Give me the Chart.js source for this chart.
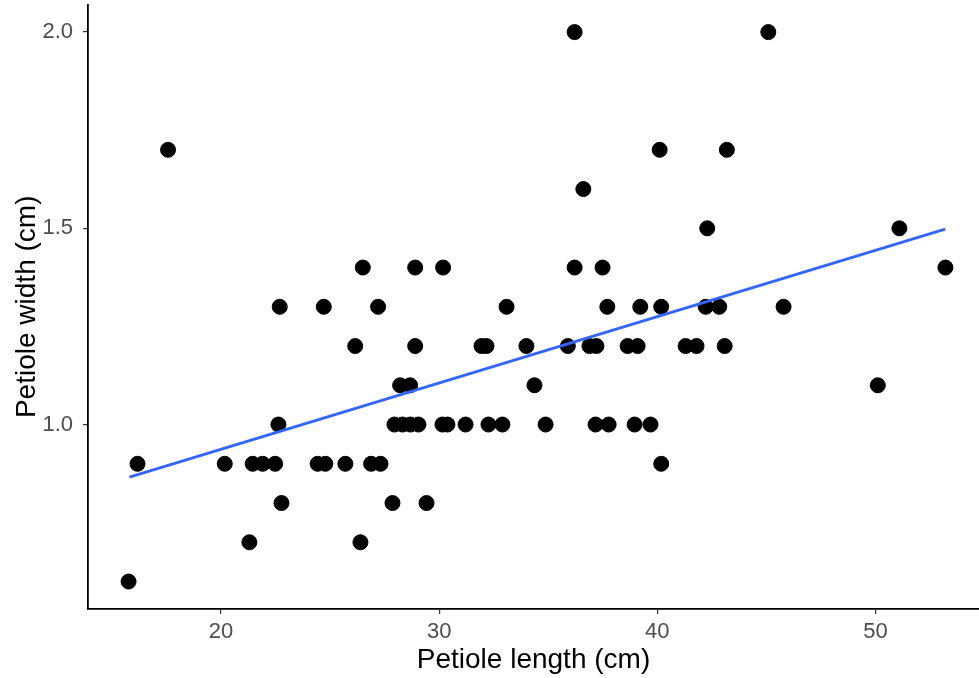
<!DOCTYPE html>
<html>
<head>
<meta charset="utf-8">
<script src="https://cdn.jsdelivr.net/npm/chart.js@4/dist/chart.umd.min.js"></script>
<style>
  body { margin: 0; background: #fff; }
  #wrap { width: 979px; height: 678px; }
</style>
</head>
<body>
<div id="wrap"><canvas id="petioleChart" width="979" height="678"></canvas></div>
<script>
// petiole length (cm) and width (cm)
const petioleLength = [
  15.76,
  21.30, 26.39,
  22.77, 27.86, 29.42,
  16.17, 20.17, 21.45, 21.91, 22.48, 24.43, 24.78, 25.70, 26.88, 27.31, 40.18,
  22.63, 27.95, 28.32, 28.68, 29.05, 30.15, 30.38, 31.21, 32.26, 32.90, 34.88, 37.17, 37.77, 38.96, 39.69,
  28.21, 28.67, 34.37, 50.11,
  26.15, 28.90, 31.94, 32.17, 34.00, 35.90, 36.89, 37.21, 38.64, 39.10, 41.30, 41.80, 43.09,
  22.69, 24.71, 27.20, 33.09, 37.71, 39.22, 40.18, 42.22, 42.84, 45.79,
  26.50, 28.90, 30.18, 36.21, 37.49, 53.21,
  42.29, 51.10,
  36.61,
  17.57, 40.11, 43.19,
  36.21, 45.09
];
const petioleWidth = [
  0.6,
  0.7, 0.7,
  0.8, 0.8, 0.8,
  0.9, 0.9, 0.9, 0.9, 0.9, 0.9, 0.9, 0.9, 0.9, 0.9, 0.9,
  1.0, 1.0, 1.0, 1.0, 1.0, 1.0, 1.0, 1.0, 1.0, 1.0, 1.0, 1.0, 1.0, 1.0, 1.0,
  1.1, 1.1, 1.1, 1.1,
  1.2, 1.2, 1.2, 1.2, 1.2, 1.2, 1.2, 1.2, 1.2, 1.2, 1.2, 1.2, 1.2,
  1.3, 1.3, 1.3, 1.3, 1.3, 1.3, 1.3, 1.3, 1.3, 1.3,
  1.4, 1.4, 1.4, 1.4, 1.4, 1.4,
  1.5, 1.5,
  1.6,
  1.7, 1.7, 1.7,
  2.0, 2.0
];

// end points of the fitted linear trend
const fitX = [15.8, 53.2];
const fitY = [0.866, 1.498];

const xTicks = [20, 30, 40, 50];
const yTicks = [1.0, 1.5, 2.0];

const points = petioleLength.map((v, i) => ({ x: v, y: petioleWidth[i] }));
const fitLine = fitX.map((v, i) => ({ x: v, y: fitY[i] }));

const ctx = document.getElementById('petioleChart').getContext('2d');

const config = {
  type: 'scatter',
  data: {
    datasets: [
      {
        type: 'line',
        label: 'fit',
        data: fitLine,
        borderColor: '#3366FF',
        borderWidth: 3,
        pointRadius: 0,
        fill: false,
        order: 0
      },
      {
        label: 'Petiole',
        data: points,
        backgroundColor: '#000',
        borderColor: '#000',
        pointRadius: 7.5,
        pointHoverRadius: 7.5,
        order: 1
      }
    ]
  },
  options: {
    responsive: false,
    animation: false,
    layout: { autoPadding: false, padding: { top: 4.6, right: 0, left: 0, bottom: 0 } },
    plugins: { legend: { display: false }, tooltip: { enabled: false } },
    scales: {
      x: {
        type: 'linear',
        min: 13.9,
        max: 54.75,
        afterBuildTicks: s => { s.ticks = xTicks.map(v => ({ value: v })); },
        afterFit: s => { s.height = 69; s.paddingLeft = 0; s.paddingRight = 0; },
        grid: { drawOnChartArea: false, drawTicks: true, tickLength: 5, color: '#333', lineWidth: 1.2 },
        border: { color: '#000', width: 1.8 },
        ticks: { color: '#4d4d4d', font: { family: 'Liberation Sans', size: 22 }, padding: 5, maxRotation: 0 },
        title: { display: true, text: 'Petiole length (cm)', color: '#000', font: { family: 'Liberation Sans', size: 28 }, padding: { top: 0, bottom: 1 } }
      },
      y: {
        type: 'linear',
        min: 0.53,
        max: 2.07,
        afterBuildTicks: s => { s.ticks = yTicks.map(v => ({ value: v })); },
        afterFit: s => { s.width = 88; s.paddingTop = 0; s.paddingBottom = 0; },
        grid: { drawOnChartArea: false, drawTicks: true, tickLength: 5, color: '#333', lineWidth: 1.2 },
        border: { color: '#000', width: 1.8 },
        ticks: { color: '#4d4d4d', font: { family: 'Liberation Sans', size: 22 }, padding: 10, callback: v => v.toFixed(1) },
        title: { display: true, text: 'Petiole width (cm)', color: '#000', font: { family: 'Liberation Sans', size: 28 }, padding: { top: 10, bottom: 0 } }
      }
    }
  }
};

const petioleChart = new Chart(ctx, config);
</script>
</body>
</html>
